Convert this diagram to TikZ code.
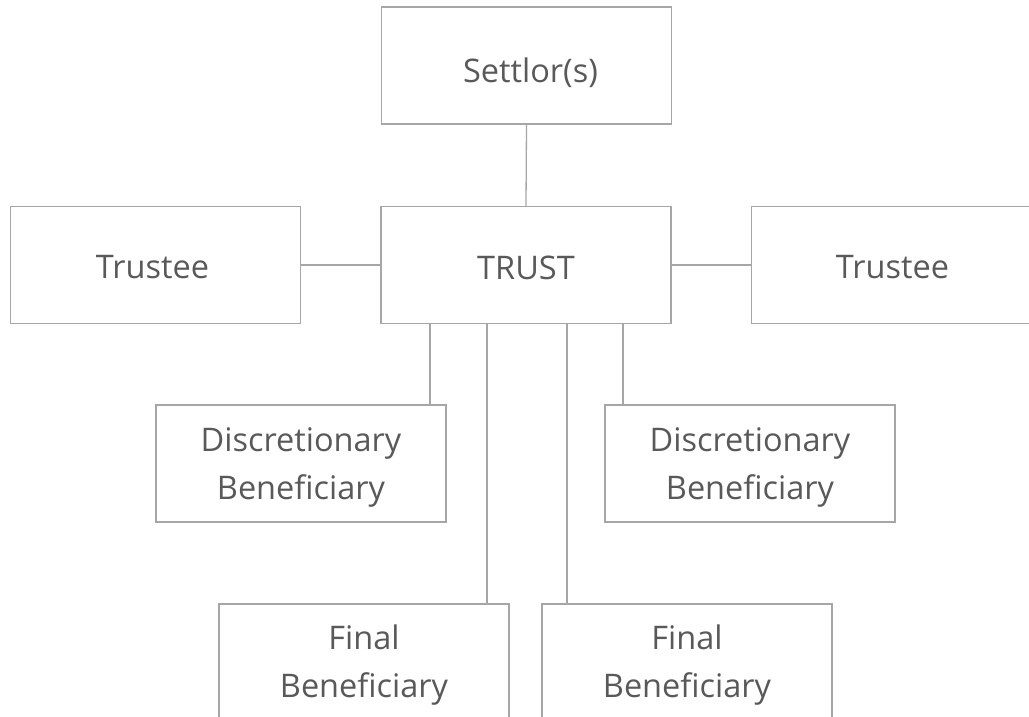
\documentclass[tikz,border=0pt]{standalone}
\usepackage{fontspec}
\setmainfont{Open Sans}
\definecolor{linegray}{HTML}{A6A6A6}
\definecolor{textgray}{HTML}{595959}
\tikzset{
  box/.style={draw=linegray, line width=1.3pt, minimum width=290pt, minimum height=117pt,
    inner sep=0pt},
  lbl/.style={inner sep=0pt, text=textgray, align=center, font=\fontsize{32.5}{48}\selectfont},
  link/.style={draw=linegray, line width=1.3pt}
}
\begin{document}
\begin{tikzpicture}[x=1pt,y=-1pt]
\useasboundingbox (0,0) rectangle (1029,717);
\clip (0,0) rectangle (1029,717);
\node[box] (settlor) at (526.5,65.5) {};
\node[box] (trust) at (526,265) {};
\node[box] (tl) at (155.5,265) {};
\node[box] (tr) at (896.5,265) {};
\node[box] (dl) at (301,463.5) {};
\node[box] (dr) at (750,463.5) {};
\node[box] (fl) at (364,662.5) {};
\node[box] (fr) at (687,662.5) {};
\node[lbl] (settlorL) at ([xshift=4pt,yshift=-7pt]settlor.center) {Settlor(s)};
\node[lbl] (trustL) at ([yshift=-2.5pt]trust.center) {TRUST};
\node[lbl] (tlL) at ([xshift=-3pt,yshift=-2.5pt]tl.center) {Trustee};
\node[lbl] (trL) at ([xshift=-4pt,yshift=-2.5pt]tr.center) {Trustee};
\node[lbl] (dlL) at ([yshift=-4pt]dl.center) {Discretionary\\Beneficiary};
\node[lbl] (drL) at ([yshift=-4pt]dr.center) {Discretionary\\Beneficiary};
\node[lbl] (flL) at ([yshift=-3pt]fl.center) {Final\\Beneficiary};
\node[lbl] (frL) at ([yshift=-3pt]fr.center) {Final\\Beneficiary};
\coordinate (t1) at ([xshift=-96pt]trust.south);
\coordinate (t2) at ([xshift=-39pt]trust.south);
\coordinate (t3) at ([xshift=41pt]trust.south);
\coordinate (t4) at ([xshift=97pt]trust.south);
\draw[link] (settlor.south) -- (trust.north);
\draw[link] (tl.east) -- (trust.west);
\draw[link] (trust.east) -- (tr.west);
\draw[link] (t1) -- (t1 |- dl.north);
\draw[link] (t4) -- (t4 |- dr.north);
\draw[link] (t2) -- (t2 |- fl.north);
\draw[link] (t3) -- (t3 |- fr.north);
\end{tikzpicture}
\end{document}
